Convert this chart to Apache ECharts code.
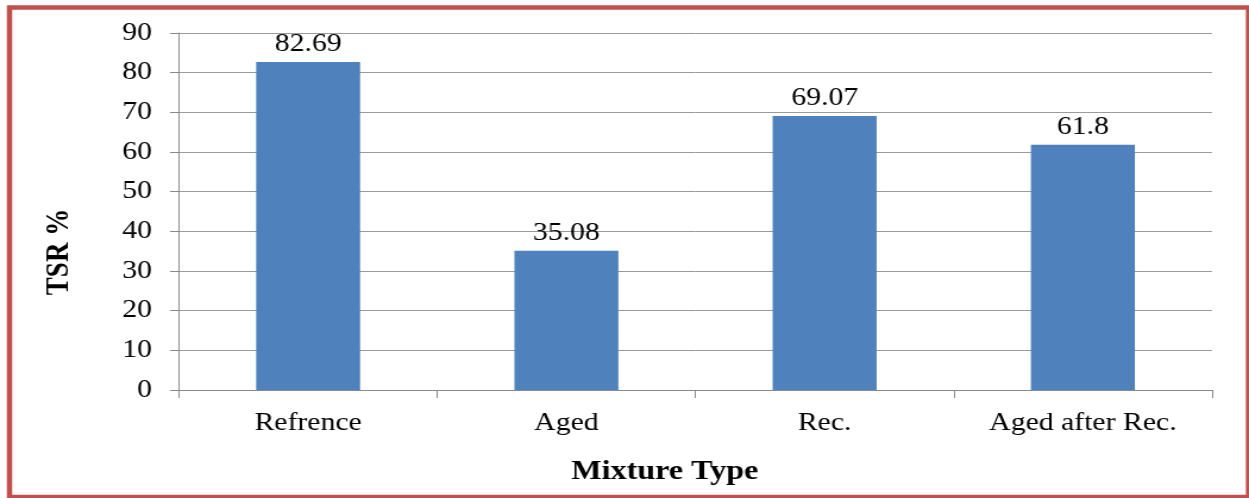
<!DOCTYPE html>
<html>
<head>
<meta charset="utf-8">
<script src="https://cdn.jsdelivr.net/npm/echarts@6/dist/echarts.min.js"></script>
<style>
  html, body { margin: 0; padding: 0; background: #fff; overflow: hidden; }
  #wrap { position: absolute; left: 0; top: 0; width: 1249px; height: 498px; overflow: hidden; }
  /* chart is laid out at a narrower width and widened horizontally */
  #chart { position: absolute; left: 0; top: 0; width: 1050px; height: 498px;
           transform: scaleX(1.18952); transform-origin: 0 0; }
</style>
</head>
<body>
<div id="wrap"><div id="chart"></div></div>
<script>
const categories = ['Refrence', 'Aged', 'Rec.', 'Aged after Rec.'];
const tsrValues = [82.69, 35.08, 69.07, 61.8];
const yMin = 0, yMax = 90, yStep = 10;
const xTitle = 'Mixture Type';
const yTitle = 'TSR %';

const FONT = '"Liberation Serif", "Times New Roman", serif';
const chart = echarts.init(document.getElementById('chart'), null, { renderer: 'canvas' });

chart.setOption({
  animation: false,
  backgroundColor: '#ffffff',
  grid: { left: 150.5, right: 31.1, top: 33, bottom: 108, containLabel: false },
  xAxis: {
    type: 'category',
    data: categories,
    axisLine: { lineStyle: { color: '#8a8a8a', width: 1 } },
    axisTick: { show: true, alignWithLabel: false, length: 8, lineStyle: { color: '#8a8a8a' } },
    axisLabel: { color: '#000', fontFamily: FONT, fontSize: 25, margin: 21 }
  },
  yAxis: {
    type: 'value',
    min: yMin, max: yMax, interval: yStep,
    axisLine: { show: true, lineStyle: { color: '#8a8a8a', width: 1 } },
    axisTick: { show: true, length: 7.6, lineStyle: { color: '#8a8a8a' } },
    axisLabel: { color: '#000', fontFamily: FONT, fontSize: 25, margin: 22.7 },
    splitLine: { show: true, lineStyle: { color: '#9a9a9a', width: 1 } }
  },
  series: [{
    type: 'bar',
    data: tsrValues,
    barWidth: 87.4,
    itemStyle: { color: '#4F81BD' },
    label: {
      show: true, position: 'top', distance: 5,
      color: '#000', fontFamily: FONT, fontSize: 25
    }
  }],
  graphic: [
    {
      type: 'rect', silent: true, z: -1,
      shape: { x: 8, y: 7.5, width: 1041.6, height: 489.5 },
      style: { fill: null, stroke: '#C0504D', lineWidth: 4.5 }
    },
    {
      type: 'text', x: 558.8, y: 472,
      style: { text: xTitle, fill: '#000', font: 'bold 27px ' + FONT,
               textAlign: 'center', textVerticalAlign: 'middle' }
    },
    {
      type: 'text', x: 50.4, y: 252, rotation: Math.PI / 2,
      style: { text: yTitle, fill: '#000', font: 'bold 27px ' + FONT,
               textAlign: 'center', textVerticalAlign: 'middle' }
    }
  ]
});
</script>
</body>
</html>
